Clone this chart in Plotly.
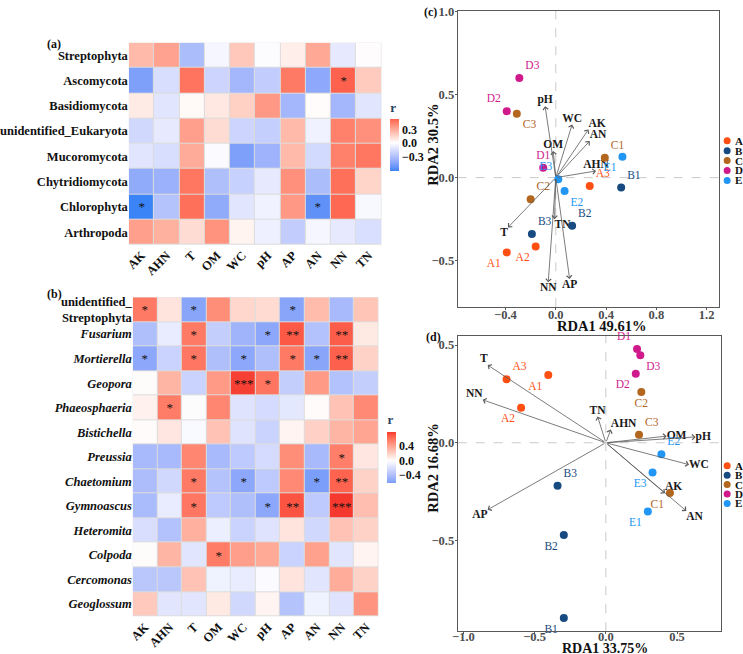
import plotly.graph_objects as go
import numpy as np

# ---------------- data ----------------
env = ["AK", "AHN", "T", "OM", "WC", "pH", "AP", "AN", "NN", "TN"]

phyla = ["Streptophyta", "Ascomycota", "Basidiomycota", "unidentified_Eukaryota",
         "Mucoromycota", "Chytridiomycota", "Chlorophyta", "Arthropoda"]
r_phyla = [
    [0.24, 0.32, -0.32, -0.04, 0.19, -0.01, 0.06, 0.30, -0.10, 0.00],
    [-0.47, -0.16, 0.47, -0.20, -0.35, -0.24, 0.45, -0.42, 0.52, 0.18],
    [0.07, -0.12, 0.02, 0.08, 0.16, 0.35, -0.35, 0.01, -0.35, -0.12],
    [-0.19, -0.10, 0.33, 0.12, -0.20, -0.23, 0.24, -0.06, 0.43, 0.38],
    [-0.12, -0.16, 0.29, -0.02, -0.47, -0.37, 0.24, -0.18, 0.43, 0.46],
    [-0.41, -0.38, 0.46, -0.31, -0.22, -0.10, 0.38, -0.32, 0.48, 0.15],
    [-0.62, -0.29, 0.48, -0.41, -0.12, -0.06, 0.35, -0.55, 0.50, -0.03],
    [0.33, 0.27, 0.12, 0.37, 0.04, -0.07, -0.24, -0.04, -0.10, -0.15],
]
sig_phyla = [
    ["", "", "", "", "", "", "", "", "", ""],
    ["", "", "", "", "", "", "", "", "*", ""],
    ["", "", "", "", "", "", "", "", "", ""],
    ["", "", "", "", "", "", "", "", "", ""],
    ["", "", "", "", "", "", "", "", "", ""],
    ["", "", "", "", "", "", "", "", "", ""],
    ["*", "", "", "", "", "", "", "*", "", ""],
    ["", "", "", "", "", "", "", "", "", ""],
]

genera = ["unidentified_Streptophyta", "Fusarium", "Mortierella", "Geopora", "Phaeosphaeria",
          "Bistichella", "Preussia", "Chaetomium", "Gymnoascus", "Heteromita",
          "Colpoda", "Cercomonas", "Geoglossum"]
r_genera = [
    [0.58, 0.12, -0.57, 0.50, 0.18, 0.16, -0.57, 0.30, -0.43, 0.26],
    [-0.40, -0.12, 0.58, -0.30, -0.47, -0.55, 0.70, -0.38, 0.69, 0.10],
    [-0.55, -0.27, 0.59, -0.40, -0.55, -0.40, 0.58, -0.57, 0.68, 0.20],
    [0.01, 0.33, -0.27, 0.45, 0.78, 0.60, -0.30, 0.45, -0.38, -0.30],
    [0.06, 0.57, 0.00, 0.53, -0.17, -0.22, -0.14, 0.02, 0.27, 0.52],
    [0.02, 0.11, -0.03, 0.27, -0.17, -0.27, 0.05, 0.21, 0.33, 0.40],
    [-0.43, -0.43, 0.53, -0.43, -0.33, -0.22, 0.50, -0.43, 0.56, 0.11],
    [-0.41, -0.24, 0.58, -0.37, -0.55, -0.33, 0.52, -0.62, 0.67, 0.20],
    [-0.42, -0.12, 0.59, -0.33, -0.40, -0.55, 0.72, -0.33, 0.80, 0.29],
    [-0.20, -0.38, 0.35, -0.10, -0.27, -0.17, 0.12, -0.24, 0.27, 0.20],
    [0.01, 0.33, -0.16, 0.57, 0.43, 0.38, -0.27, 0.42, -0.16, 0.05],
    [-0.35, -0.35, 0.27, -0.08, -0.12, -0.02, 0.12, -0.16, 0.37, 0.20],
    [0.24, -0.16, -0.16, 0.10, -0.24, 0.05, -0.37, -0.08, -0.17, 0.47],
]
sig_genera = [
    ["*", "", "*", "", "", "", "*", "", "", ""],
    ["", "", "*", "", "", "*", "**", "", "**", ""],
    ["*", "", "*", "", "*", "", "*", "*", "**", ""],
    ["", "", "", "", "***", "*", "", "", "", ""],
    ["", "*", "", "", "", "", "", "", "", ""],
    ["", "", "", "", "", "", "", "", "", ""],
    ["", "", "", "", "", "", "", "", "*", ""],
    ["", "", "*", "", "*", "", "", "*", "**", ""],
    ["", "", "*", "", "", "*", "**", "", "***", ""],
    ["", "", "", "", "", "", "", "", "", ""],
    ["", "", "", "*", "", "", "", "", "", ""],
    ["", "", "", "", "", "", "", "", "", ""],
    ["", "", "", "", "", "", "", "", "", ""],
]

samples = ["A1", "A2", "A3", "B1", "B2", "B3", "C1", "C2", "C3",
           "D1", "D2", "D3", "E1", "E2", "E3"]
groups = ["A", "B", "C", "D", "E"]

# panel (c)
c_rda1 = [-0.39, -0.16, 0.27, 0.52, 0.13, -0.19, 0.39, -0.20, -0.31,
          -0.10, -0.39, -0.29, 0.53, 0.07, 0.02]
c_rda2 = [-0.45, -0.415, -0.05, -0.06, -0.29, -0.34, 0.12, -0.13, 0.385,
          0.06, 0.40, 0.60, 0.125, -0.08, -0.01]
c_env1 = [0.26, 0.32, -0.38, -0.02, 0.13, -0.085, 0.11, 0.27, -0.06, -0.01]
c_env2 = [0.29, 0.04, -0.30, 0.16, 0.32, 0.43, -0.61, 0.22, -0.63, -0.25]

# panel (d)
d_rda1 = [-0.404, -0.595, -0.697, -0.295, -0.295, -0.339, 0.45, 0.249, 0.233,
          0.219, 0.21, 0.242, 0.295, 0.39, 0.328]
d_rda2 = [0.347, 0.179, 0.325, -0.898, -0.472, -0.22, -0.257, 0.26, 0.041,
          0.48, 0.354, 0.448, -0.352, -0.059, -0.152]
d_env1 = [0.415, 0.035, -0.83, 0.427, 0.584, 0.63, -0.83, 0.565, -0.865, -0.058]
d_env2 = [-0.259, 0.068, 0.398, 0.034, -0.112, 0.03, -0.343, -0.349, 0.22, 0.135]

# ---------------- style ----------------
W, H = 743, 654
SERIF = "Liberation Serif"
group_colors = {"A": "#FF4F12", "B": "#164A80", "C": "#B3661E", "D": "#D01A8C", "E": "#2196F5"}

c_pos = {"A1": "bottom left", "A2": "bottom left", "A3": "top right", "B1": "top right",
         "B2": "top right", "B3": "top right", "C1": "top right", "C2": "top right",
         "C3": "bottom right", "D1": "top center", "D2": "top left", "D3": "top right",
         "E1": "bottom left", "E2": "bottom right", "E3": "top left"}
d_pos = {"A1": "bottom left", "A2": "bottom left", "A3": "top right", "B1": "bottom left",
         "B2": "bottom left", "B3": "top right", "C1": "bottom left", "C2": "bottom center",
         "C3": "top right", "D1": "top left", "D2": "bottom left", "D3": "bottom right",
         "E1": "bottom left", "E2": "top right", "E3": "bottom left"}
c_env_pos = {"AK": "top right", "AHN": "top center", "T": "bottom left", "OM": "top center",
             "WC": "top center", "pH": "top center", "AP": "bottom center", "AN": "top right",
             "NN": "bottom center", "TN": "bottom right"}
d_env_pos = {"AK": "top right", "AHN": "top right", "T": "top left", "OM": "middle right",
             "WC": "middle right", "pH": "middle right", "AP": "bottom left", "AN": "bottom right",
             "NN": "top left", "TN": "top center"}


def px(x):
    return x / W


def py(y):
    return 1 - y / H


# ---- Lab interpolation (like ggplot2 scale_fill_gradient2) ----
def _h2rgb(h):
    h = h.lstrip("#")
    return [int(h[i:i + 2], 16) / 255 for i in (0, 2, 4)]


def _lin(c):
    return c / 12.92 if c <= 0.04045 else ((c + 0.055) / 1.055) ** 2.4


def _gam(c):
    c = min(max(c, 0), 1)
    return 12.92 * c if c <= 0.0031308 else 1.055 * c ** (1 / 2.4) - 0.055


_M = np.array([[0.4124, 0.3576, 0.1805], [0.2126, 0.7152, 0.0722], [0.0193, 0.1192, 0.9505]])
_Mi = np.linalg.inv(_M)
_WP = np.array([0.95047, 1.0, 1.08883])


def _f(t):
    return t ** (1 / 3) if t > 0.008856 else 7.787 * t + 16 / 116


def _fi(t):
    return t ** 3 if t ** 3 > 0.008856 else (t - 16 / 116) / 7.787


def to_lab(h):
    xyz = _M @ np.array([_lin(c) for c in _h2rgb(h)]) / _WP
    fx, fy, fz = [_f(v) for v in xyz]
    return np.array([116 * fy - 16, 500 * (fx - fy), 200 * (fy - fz)])


def from_lab(lab):
    L, a, b = lab
    fy = (L + 16) / 116
    fx = fy + a / 500
    fz = fy - b / 200
    xyz = np.array([_fi(fx), _fi(fy), _fi(fz)]) * _WP
    rgb = _Mi @ xyz
    return "rgb(%d,%d,%d)" % tuple(round(_gam(c) * 255) for c in rgb)


LOW, MID, HIGH = "#3A84F7", "#FFFFFF", "#F5392F"


def gradient2(zmin, zmax, n=41):
    m = max(abs(zmin), abs(zmax))
    lo, mi, hi = to_lab(LOW), to_lab(MID), to_lab(HIGH)
    scale = []
    for p in np.linspace(0, 1, n):
        v = zmin + p * (zmax - zmin)
        t = v / m
        lab = mi + (hi - mi) * t if t >= 0 else mi + (lo - mi) * (-t)
        scale.append([float(p), from_lab(lab)])
    return scale


fig = go.Figure()

cb_font = dict(family=SERIF, size=12, color="#111", weight="bold")

# ---------------- heatmap (a) ----------------
za = np.array(r_phyla)
fig.add_trace(go.Heatmap(
    z=za, x=env, y=phyla, xaxis="x", yaxis="y",
    zmin=za.min(), zmax=za.max(), colorscale=gradient2(za.min(), za.max()),
    text=sig_phyla, texttemplate="%{text}",
    textfont=dict(family=SERIF, size=13, color="#111"),
    xgap=1, ygap=1, hoverinfo="skip",
    colorbar=dict(x=px(387), xanchor="left", y=py(167), yanchor="bottom",
                  len=72, lenmode="pixels", thickness=9, thicknessmode="pixels",
                  outlinewidth=0, xpad=0, ypad=0, ticks="",
                  title=dict(text="<b>r</b>", side="top", font=dict(family=SERIF, size=13)),
                  tickvals=[-0.3, 0, 0.3], ticktext=["\u22120.3", "0.0", "0.3"],
                  tickfont=cb_font),
))

# ---------------- heatmap (b) ----------------
zb = np.array(r_genera)
fig.add_trace(go.Heatmap(
    z=zb, x=env, y=genera, xaxis="x2", yaxis="y2",
    zmin=zb.min(), zmax=zb.max(), colorscale=gradient2(zb.min(), zb.max()),
    text=sig_genera, texttemplate="%{text}",
    textfont=dict(family=SERIF, size=13, color="#111"),
    xgap=1, ygap=1, hoverinfo="skip",
    colorbar=dict(x=px(384), xanchor="left", y=py(481), yanchor="bottom",
                  len=71, lenmode="pixels", thickness=9, thicknessmode="pixels",
                  outlinewidth=0, xpad=0, ypad=0, ticks="",
                  title=dict(text="<b>r</b>", side="top", font=dict(family=SERIF, size=13)),
                  tickvals=[-0.4, 0, 0.4], ticktext=["\u22120.4", "0.0", "0.4"],
                  tickfont=cb_font),
))

genus_labels = []
for g in genera:
    if g.startswith("unidentified_"):
        genus_labels.append("<b>unidentified_<br>" + g.split("_", 1)[1] + "</b>")
    else:
        genus_labels.append("<b><i>" + g + "</i></b>")

# ---------------- RDA scatter (c) and (d) ----------------
def add_rda(xs, ys, pos, xa, ya):
    for g in groups:
        idx = [i for i, s in enumerate(samples) if s[0] == g]
        fig.add_trace(go.Scatter(
            x=[xs[i] for i in idx], y=[ys[i] for i in idx],
            mode="markers+text", text=[samples[i] for i in idx],
            textposition=[pos[samples[i]] for i in idx],
            marker=dict(size=8, color=group_colors[g]),
            textfont=dict(family=SERIF, size=11.5, color=group_colors[g]),
            xaxis=xa, yaxis=ya, showlegend=False, hoverinfo="skip", cliponaxis=False))


def add_env(ex, ey, pos, xa, ya, annots):
    for n, x, y in zip(env, ex, ey):
        annots.append(dict(x=x, y=y, ax=0, ay=0, xref=xa, yref=ya, axref=xa, ayref=ya,
                           text="", showarrow=True, arrowhead=4, arrowsize=1.3,
                           arrowwidth=0.8, arrowcolor="#5a5a5a", standoff=0, startstandoff=0))
    fig.add_trace(go.Scatter(
        x=ex, y=ey, mode="text", text=env, textposition=[pos[n] for n in env],
        textfont=dict(family=SERIF, size=11.5, color="#1a1a1a", weight="bold"),
        xaxis=xa, yaxis=ya, showlegend=False, hoverinfo="skip", cliponaxis=False))


annots = []
add_env(c_env1, c_env2, c_env_pos, "x3", "y3", annots)
add_rda(c_rda1, c_rda2, c_pos, "x3", "y3")
add_env(d_env1, d_env2, d_env_pos, "x4", "y4", annots)
add_rda(d_rda1, d_rda2, d_pos, "x4", "y4")

# ---------------- layout ----------------
hm_tick = dict(family=SERIF, size=12.5, color="#111", weight="bold")
num_tick = dict(family=SERIF, size=12.5, color="#4d4d4d", weight="bold")

dom_a_x = [px(123), px(378)]
dom_a_y = [py(241), py(37)]
dom_b_x = [px(127), px(375)]
dom_b_y = [py(616), py(294)]
dom_c_x = [px(455), px(719)]
dom_c_y = [py(304), py(5)]
dom_d_x = [px(455), px(721)]
dom_d_y = [py(631), py(333)]

rda_axis = dict(showgrid=False, zeroline=False, showline=True, mirror=True,
                linecolor="#595959", linewidth=1, ticks="outside", ticklen=2,
                tickcolor="#595959", tickfont=num_tick, tickformat=".1f")

fig.update_layout(
    width=W, height=H, margin=dict(l=0, r=0, t=0, b=0),
    paper_bgcolor="white", plot_bgcolor="white", showlegend=False,
    xaxis=dict(domain=dom_a_x, anchor="y", tickangle=-45, tickfont=hm_tick,
               showgrid=False, zeroline=False, ticks=""),
    yaxis=dict(domain=dom_a_y, anchor="x", autorange="reversed", tickfont=hm_tick,
               showgrid=False, zeroline=False, ticks=""),
    xaxis2=dict(domain=dom_b_x, anchor="y2", tickangle=-45, tickfont=hm_tick,
                showgrid=False, zeroline=False, ticks=""),
    yaxis2=dict(domain=dom_b_y, anchor="x2", autorange="reversed", tickfont=hm_tick,
                tickmode="array", tickvals=genera, ticktext=genus_labels,
                showgrid=False, zeroline=False, ticks=""),
    xaxis3=dict(domain=dom_c_x, anchor="y3", range=[-0.78, 1.30], ticklabelstandoff=-6,
                tickvals=[-0.4, 0, 0.4, 0.8, 1.2], **rda_axis),
    yaxis3=dict(domain=dom_c_y, anchor="x3", range=[-0.78, 1.003], ticklabelstandoff=-2,
                tickvals=[-0.5, 0, 0.5, 1.0], **rda_axis),
    xaxis4=dict(domain=dom_d_x, anchor="y4", range=[-1.04, 0.81], ticklabelstandoff=-8,
                tickvals=[-1.0, -0.5, 0, 0.5], **rda_axis),
    yaxis4=dict(domain=dom_d_y, anchor="x4", range=[-0.965, 0.547], ticklabelstandoff=-2,
                tickvals=[-0.5, 0, 0.5], **rda_axis),
)

shapes = []
# light grey tile borders behind heatmaps
for xr, yr in (("x", "y"), ("x2", "y2")):
    shapes.append(dict(type="rect", xref=xr + " domain", yref=yr + " domain",
                       x0=0, x1=1, y0=0, y1=1, fillcolor="#DCDCDC",
                       line=dict(width=0), layer="below"))
# dashed zero lines
for xr, yr in (("x3", "y3"), ("x4", "y4")):
    shapes.append(dict(type="line", xref=xr, yref=yr + " domain", x0=0, x1=0, y0=0, y1=1,
                       line=dict(color="#BDBDBD", width=0.8, dash="dash"), layer="below"))
    shapes.append(dict(type="line", xref=xr + " domain", yref=yr, x0=0, x1=1, y0=0, y1=0,
                       line=dict(color="#BDBDBD", width=0.8, dash="dash"), layer="below"))

# manual legends
legend_rows = {"c": [136, 146, 156, 166, 176], "d": [464, 473.5, 483, 492.5, 502]}
for key, ys in legend_rows.items():
    for g, yy in zip(groups, ys):
        shapes.append(dict(type="circle", xref="paper", yref="paper",
                           xsizemode="pixel", ysizemode="pixel",
                           xanchor=px(727), yanchor=py(yy), x0=-3.5, x1=3.5, y0=-3.5, y1=3.5,
                           fillcolor=group_colors[g], line=dict(width=0)))
        annots.append(dict(x=px(733), y=py(yy), xref="paper", yref="paper", xanchor="left",
                           yanchor="middle", showarrow=False, text="<b>%s</b>" % g,
                           font=dict(family=SERIF, size=11, color="#111")))

# panel tags and axis titles
def label(text, x, y, size=12, angle=0, xanchor="center"):
    annots.append(dict(x=px(x), y=py(y), xref="paper", yref="paper", text=text,
                       showarrow=False, xanchor=xanchor, yanchor="middle", textangle=angle,
                       font=dict(family=SERIF, size=size, color="#111")))


label("<b>(a)</b>", 47, 38)
label("<b>(b)</b>", 48, 291)
label("<b>(c)</b>", 428, 6)
label("<b>(d)</b>", 431, 334)
label("<b>RDA1 49.61%</b>", 600, 323, size=14.5)
label("<b>RDA1 33.75%</b>", 604, 648, size=14)
label("<b>RDA2 30.5%</b>", 430, 140, size=14.5, angle=-90)
label("<b>RDA2 16.68%</b>", 430, 466, size=14.5, angle=-90)

fig.update_layout(shapes=shapes, annotations=annots)

fig.write_html("out.html")
